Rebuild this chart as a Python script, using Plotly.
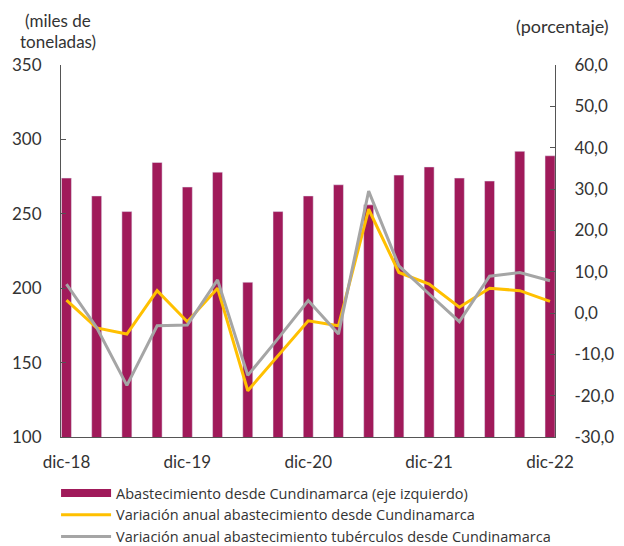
import plotly.graph_objects as go

periods = ["dic-18", "mar-19", "jun-19", "sep-19", "dic-19", "mar-20", "jun-20", "sep-20",
           "dic-20", "mar-21", "jun-21", "sep-21", "dic-21", "mar-22", "jun-22", "sep-22", "dic-22"]
abastecimiento = [274, 262, 251.5, 284.5, 268, 278, 204, 251.5, 262, 269.5, 256, 276, 281.5, 274, 272, 292, 289]
var_abastecimiento = [3.1, -3.6, -5.1, 5.4, -2.1, 6.0, -18.8, -10.4, -1.9, -3.1, 25.1, 9.8, 7.0, 1.4, 6.0, 5.4, 2.8]
var_tuberculos = [7.0, -3.5, -17.5, -3.1, -2.9, 8.0, -15.1, -6.2, 3.0, -5.1, 29.5, 11.4, 4.6, -2.1, 8.9, 9.8, 7.8]

x_tickvals = ["dic-18", "dic-19", "dic-20", "dic-21", "dic-22"]
left_ticks = [100, 150, 200, 250, 300, 350]
right_ticks = [-30, -20, -10, 0, 10, 20, 30, 40, 50, 60]
right_ticktext = ["-30,0", "-20,0", "-10,0", "0,0", "10,0", "20,0", "30,0", "40,0", "50,0", "60,0"]

name_bar = "Abastecimiento desde Cundinamarca (eje izquierdo)"
name_y = "Variación anual abastecimiento desde Cundinamarca"
name_g = "Variación anual abastecimiento tubérculos desde Cundinamarca"

BAR = "#A01A5A"
YEL = "#FFC000"
GRY = "#A5A5A5"
FONT = "Lato"
LFONT = "Open Sans"
TXT = "#333333"
AX = "#555555"

fig = go.Figure()
fig.add_trace(go.Bar(x=periods, y=abastecimiento, name=name_bar, marker_color=BAR,
                     width=0.33, showlegend=False))
# legend swatch for bars (wide rectangle)
fig.add_trace(go.Scatter(x=[None], y=[None], mode="lines", name=name_bar,
                         line=dict(color=BAR, width=8)))
fig.add_trace(go.Scatter(x=periods, y=var_abastecimiento, name=name_y, mode="lines",
                         line=dict(color=YEL, width=3), yaxis="y2"))
fig.add_trace(go.Scatter(x=periods, y=var_tuberculos, name=name_g, mode="lines",
                         line=dict(color=GRY, width=3), yaxis="y2"))

# the page body adds an 8px offset inside the 624x546 window
fig.update_layout(
    width=616, height=546,
    margin=dict(l=53, r=69, t=57, b=117, autoexpand=False),
    paper_bgcolor="white", plot_bgcolor="white",
    font=dict(family=FONT, size=17, color=TXT),
    showlegend=True,
    legend=dict(x=-0.010, y=-0.1075, xanchor="left", yanchor="top",
                font=dict(family=LFONT, size=14.5, color=TXT),
                itemwidth=50, tracegroupgap=0, bgcolor="rgba(0,0,0,0)"),
    xaxis=dict(type="category", range=[-0.18, 16.165], tickvals=x_tickvals,
               showline=True, linecolor=AX, linewidth=1,
               ticks="", showgrid=False, ticklabelstandoff=10,
               tickfont=dict(family=FONT, size=17, color=TXT)),
    yaxis=dict(range=[100, 350], tickvals=left_ticks, showline=True, linecolor=AX,
               linewidth=1, ticks="inside", ticklen=5, tickcolor=AX,
               showgrid=False, zeroline=False, ticklabelstandoff=15,
               tickfont=dict(family=FONT, size=17, color=TXT)),
    yaxis2=dict(range=[-30, 60], tickvals=right_ticks, ticktext=right_ticktext,
                overlaying="y", side="right", showline=True, linecolor=AX,
                linewidth=1, ticks="inside", ticklen=5, tickcolor=AX,
                showgrid=False, zeroline=False, ticklabelstandoff=15,
                tickfont=dict(family=FONT, size=17, color=TXT)),
    annotations=[
        dict(text="(miles de", xref="paper", yref="paper",
             x=-0.007, y=1.1196, xanchor="center", yanchor="middle",
             showarrow=False, font=dict(family=FONT, size=17, color=TXT)),
        dict(text="toneladas)", xref="paper", yref="paper",
             x=-0.007, y=1.063, xanchor="center", yanchor="middle",
             showarrow=False, font=dict(family=FONT, size=17, color=TXT)),
        dict(text="(porcentaje)", xref="paper", yref="paper",
             x=1.0152, y=1.1035, xanchor="center", yanchor="middle",
             showarrow=False, font=dict(family=FONT, size=18, color=TXT)),
    ],
)

fig.write_html("out.html")
